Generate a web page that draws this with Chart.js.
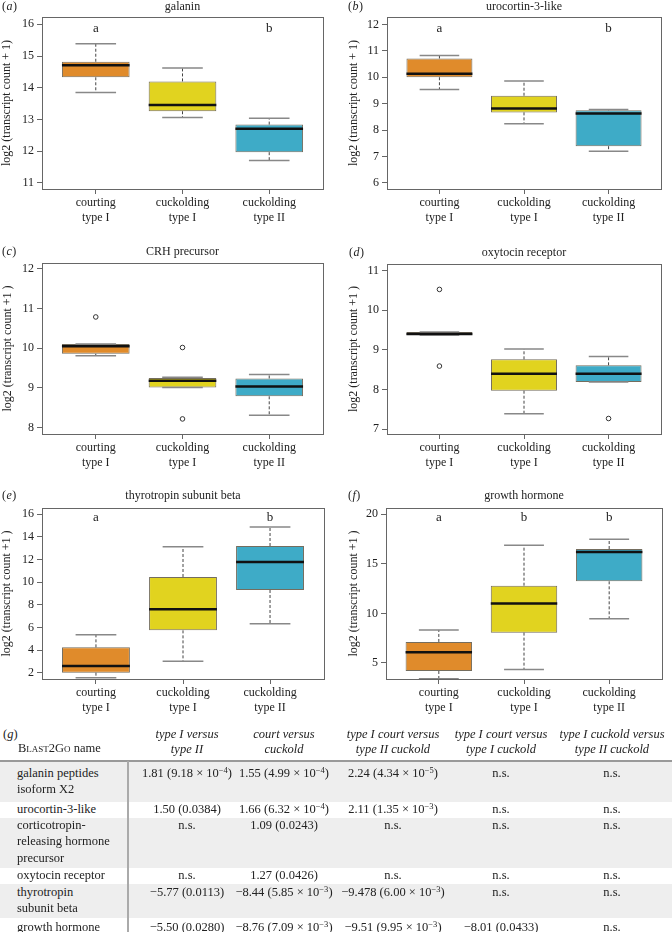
<!DOCTYPE html>
<html>
<head>
<meta charset="utf-8">
<script src="https://cdn.jsdelivr.net/npm/chart.js@4.4.1/dist/chart.umd.min.js"></script>
<style>
  body { margin: 0; background: #fff; font-family: 'Liberation Serif', 'DejaVu Serif', serif; color: #222; }
  #page { position: relative; width: 672px; height: 932px; overflow: hidden; }
  #page canvas { position: absolute; }
  .t { position: absolute; white-space: nowrap; font-size: 12.5px; line-height: 16px; }
  .c { text-align: center; width: 140px; }
  .i { font-style: italic; }
  .sc { font-variant: small-caps; }
  .sup { font-size: 8.5px; position: relative; top: -4px; }
  .band { position: absolute; left: 0; width: 672px; background: #eeeeee; }
</style>
</head>
<body>
<div id="page">
  <canvas id="pa" width="336" height="260" style="left:0;top:0"></canvas>
  <canvas id="pb" width="336" height="260" style="left:336px;top:0"></canvas>
  <canvas id="pc" width="336" height="260" style="left:0;top:230px"></canvas>
  <canvas id="pd" width="336" height="260" style="left:336px;top:230px"></canvas>
  <canvas id="pe" width="336" height="260" style="left:0;top:460px"></canvas>
  <canvas id="pf" width="336" height="260" style="left:336px;top:460px"></canvas>
  <div id="table"></div>
</div>
<script>
const groupLabels = [['courting', 'type I'], ['cuckolding', 'type I'], ['cuckolding', 'type II']];
const boxColors = ['#E08B2B', '#E1D31F', '#3EABC7'];

// each box: [lower whisker, Q1, median, Q3, upper whisker]
const galaninBoxes = [[13.85, 14.33, 14.71, 14.82, 15.39], [13.06, 13.26, 13.46, 14.20, 14.62], [11.71, 11.97, 12.71, 12.84, 13.04]];
const galaninOutliers = [[], [], []];
const galaninTicks = [11, 12, 13, 14, 15, 16];
const galaninLetters = ['a', '', 'b'];

const urocortinBoxes = [[9.54, 10.00, 10.13, 10.71, 10.82], [8.24, 8.67, 8.82, 9.30, 9.86], [7.20, 7.39, 8.63, 8.75, 8.78]];
const urocortinOutliers = [[], [], []];
const urocortinTicks = [6, 7, 8, 9, 10, 11, 12];
const urocortinLetters = ['a', '', 'b'];

const crhBoxes = [[9.81, 9.86, 10.05, 10.11, 10.11], [9.01, 9.01, 9.18, 9.25, 9.27], [8.31, 8.79, 9.04, 9.24, 9.34]];
const crhOutliers = [[10.79], [10.02, 8.22], []];
const crhTicks = [8, 9, 10, 11, 12];
const crhLetters = ['', '', ''];

const oxtrBoxes = [[9.37, 9.37, 9.40, 9.45, 9.45], [7.39, 7.97, 8.40, 8.76, 9.02], [8.19, 8.19, 8.40, 8.61, 8.83]];
const oxtrOutliers = [[10.52, 8.59], [], [7.27]];
const oxtrTicks = [7, 8, 9, 10, 11];
const oxtrLetters = ['', '', ''];

const tshbBoxes = [[1.56, 2.00, 2.59, 4.24, 5.36], [3.00, 5.74, 7.60, 10.46, 13.14], [6.33, 9.31, 11.79, 13.20, 14.88]];
const tshbOutliers = [[], [], []];
const tshbTicks = [2, 4, 6, 8, 10, 12, 14, 16];
const tshbLetters = ['a', '', 'b'];

const ghBoxes = [[3.40, 4.19, 6.07, 7.12, 8.33], [4.33, 8.06, 10.99, 12.80, 16.87], [9.47, 13.24, 16.20, 16.50, 17.48]];
const ghOutliers = [[], [], []];
const ghTicks = [5, 10, 15, 20];
const ghLetters = ['a', 'b', 'b'];

// table (g)
const tableHeaders = [['type I versus', 'type II'], ['court versus', 'cuckold'], ['type I court versus', 'type II cuckold'], ['type I court versus', 'type I cuckold'], ['type I cuckold versus', 'type II cuckold']];
const tableNames = [['galanin peptides', 'isoform X2'], ['urocortin-3-like'], ['corticotropin-', 'releasing hormone', 'precursor'], ['oxytocin receptor'], ['thyrotropin', 'subunit beta'], ['growth hormone']];
const tableValues = [
  ['1.81 (9.18 × 10^−4)', '1.55 (4.99 × 10^−4)', '2.24 (4.34 × 10^−5)', 'n.s.', 'n.s.'],
  ['1.50 (0.0384)', '1.66 (6.32 × 10^−4)', '2.11 (1.35 × 10^−3)', 'n.s.', 'n.s.'],
  ['n.s.', '1.09 (0.0243)', 'n.s.', 'n.s.', 'n.s.'],
  ['n.s.', '1.27 (0.0426)', 'n.s.', 'n.s.', 'n.s.'],
  ['−5.77 (0.0113)', '−8.44 (5.85 × 10^−3)', '−9.478 (6.00 × 10^−3)', 'n.s.', 'n.s.'],
  ['−5.50 (0.0280)', '−8.76 (7.09 × 10^−3)', '−9.51 (9.95 × 10^−3)', '−8.01 (0.0433)', 'n.s.']
];

const FONT = "'Liberation Serif', 'DejaVu Serif', serif";
const CANVAS_H = 260;
const yTitle1 = 'log2 (transcript count + 1)';
const yTitle2 = 'log2 (transcript count +1 )';

const panels = [
  { id: 'pa', tag: 'a', title: 'galanin', yTitle: yTitle1, boxes: galaninBoxes, outliers: galaninOutliers, ticks: galaninTicks, letters: galaninLetters, letterY: 15.88, min: 10.81, max: 16.23, area: [42, 323, 17, 189], titleY: 7, tagX: 2, yTitleX: 7 },
  { id: 'pb', tag: 'b', title: 'urocortin-3-like', yTitle: yTitle1, boxes: urocortinBoxes, outliers: urocortinOutliers, ticks: urocortinTicks, letters: urocortinLetters, letterY: 11.86, min: 5.77, max: 12.28, area: [51, 325, 17, 189], titleY: 7, tagX: 12, yTitleX: 18 },
  { id: 'pc', tag: 'c', title: 'CRH precursor', yTitle: yTitle2, boxes: crhBoxes, outliers: crhOutliers, ticks: crhTicks, letters: crhLetters, letterY: 12, min: 7.84, max: 12.15, area: [42, 323, 33, 204], titleY: 22, tagX: 2, yTitleX: 8 },
  { id: 'pd', tag: 'd', title: 'oxytocin receptor', yTitle: yTitle2, boxes: oxtrBoxes, outliers: oxtrOutliers, ticks: oxtrTicks, letters: oxtrLetters, letterY: 11, min: 6.88, max: 11.16, area: [51, 325, 34, 204], titleY: 23, tagX: 13, yTitleX: 18 },
  { id: 'pe', tag: 'e', title: 'thyrotropin subunit beta', yTitle: yTitle2, boxes: tshbBoxes, outliers: tshbOutliers, ticks: tshbTicks, letters: tshbLetters, letterY: 15.7, min: 1.44, max: 16.56, area: [42, 324, 48, 219], titleY: 36, tagX: 2, yTitleX: 7 },
  { id: 'pf', tag: 'f', title: 'growth hormone', yTitle: yTitle2, boxes: ghBoxes, outliers: ghOutliers, ticks: ghTicks, letters: ghLetters, letterY: 19.66, min: 3.38, max: 20.64, area: [50, 326, 48, 219], titleY: 36, tagX: 12, yTitleX: 18 }
];

const boxExtras = {
  id: 'boxExtras',
  afterDatasetsDraw(chart, args, opts) {
    const { ctx, chartArea: a, scales: { x, y } } = chart;
    const bars = chart.getDatasetMeta(0).data;
    ctx.save();
    ctx.beginPath();
    ctx.rect(a.left, a.top, a.right - a.left, a.bottom - a.top);
    ctx.clip();
    opts.boxes.forEach((b, i) => {
      const cx = x.getPixelForValue(i + 1);
      const half = bars[i].width / 2;
      const cap = half * 0.6;
      ctx.strokeStyle = '#444';
      ctx.lineWidth = 1;
      ctx.setLineDash([3, 2]);
      ctx.beginPath();
      if (b[4] > b[3]) { ctx.moveTo(cx, y.getPixelForValue(b[3])); ctx.lineTo(cx, y.getPixelForValue(b[4])); }
      if (b[0] < b[1]) { ctx.moveTo(cx, y.getPixelForValue(b[1])); ctx.lineTo(cx, y.getPixelForValue(b[0])); }
      ctx.stroke();
      ctx.setLineDash([]);
      ctx.strokeStyle = '#888';
      ctx.lineWidth = 1.5;
      ctx.beginPath();
      [b[0], b[4]].forEach((v) => {
        const py = y.getPixelForValue(v);
        ctx.moveTo(cx - cap, py);
        ctx.lineTo(cx + cap, py);
      });
      ctx.stroke();
      ctx.strokeStyle = '#111';
      ctx.lineWidth = 2.5;
      ctx.beginPath();
      const my = y.getPixelForValue(b[2]);
      ctx.moveTo(cx - half, my);
      ctx.lineTo(cx + half, my);
      ctx.stroke();
    });
    ctx.restore();

    ctx.save();
    ctx.fillStyle = '#222';
    ctx.font = '13px ' + FONT;
    ctx.textAlign = 'center';
    ctx.textBaseline = 'middle';
    opts.letters.forEach((l, i) => {
      if (l) ctx.fillText(l, x.getPixelForValue(i + 1), y.getPixelForValue(opts.letterY));
    });
    ctx.restore();
  },
  afterDraw(chart, args, opts) {
    const { ctx, chartArea: a } = chart;
    ctx.save();
    ctx.strokeStyle = '#666';
    ctx.lineWidth = 1;
    ctx.strokeRect(Math.round(a.left) + 0.5, Math.round(a.top) + 0.5, Math.round(a.right - a.left), Math.round(a.bottom - a.top));
    ctx.fillStyle = '#222';
    ctx.textBaseline = 'middle';
    ctx.font = '12px ' + FONT;
    ctx.textAlign = 'center';
    ctx.fillText(opts.title, (a.left + a.right) / 2, opts.titleY);
    // panel tag "(a)"
    ctx.textAlign = 'left';
    let px = opts.tagX;
    ctx.font = '12px ' + FONT;
    ctx.fillText('(', px, opts.titleY);
    px += ctx.measureText('(').width + 0.5;
    ctx.font = 'italic 12px ' + FONT;
    ctx.fillText(opts.tag, px, opts.titleY);
    px += ctx.measureText(opts.tag).width + 0.5;
    ctx.font = '12px ' + FONT;
    ctx.fillText(')', px, opts.titleY);
    ctx.restore();
  }
};

panels.forEach((p) => {
  const [left, right, top, bottom] = p.area;
  const scatter = [];
  p.outliers.forEach((list, i) => list.forEach((v) => scatter.push({ x: i + 1, y: v })));
  new Chart(document.getElementById(p.id), {
    type: 'bar',
    data: {
      datasets: [
        {
          data: p.boxes.map((b, i) => ({ x: i + 1, y: [b[1], b[3]] })),
          backgroundColor: boxColors,
          borderColor: 'rgba(70,60,40,0.75)',
          borderWidth: 1,
          borderSkipped: false,
          barPercentage: 0.78,
          categoryPercentage: 1
        },
        {
          type: 'scatter',
          data: scatter,
          pointRadius: 2.3,
          pointStyle: 'circle',
          backgroundColor: 'rgba(0,0,0,0)',
          borderColor: '#333',
          borderWidth: 1
        }
      ]
    },
    options: {
      responsive: false,
      animation: false,
      devicePixelRatio: 1,
      layout: { padding: { left: 0, top: top, right: 336 - right, bottom: 0 } },
      plugins: {
        legend: { display: false },
        tooltip: { enabled: false },
        boxExtras: { boxes: p.boxes, letters: p.letters, letterY: p.letterY, title: p.title, titleY: p.titleY, tag: p.tag, tagX: p.tagX }
      },
      scales: {
        x: {
          type: 'linear',
          min: 0.38,
          max: 3.62,
          offset: false,
          afterBuildTicks: (s) => { s.ticks = [1, 2, 3].map((v) => ({ value: v })); },
          afterFit: (s) => { s.height = CANVAS_H - bottom; },
          ticks: {
            autoSkip: false,
            maxRotation: 0,
            padding: 1,
            color: '#222',
            font: { family: FONT, size: 12, lineHeight: 1.25 },
            callback: (v) => groupLabels[v - 1]
          },
          grid: { drawOnChartArea: false, offset: false, tickLength: 5, color: '#666' },
          border: { display: false }
        },
        y: {
          min: p.min,
          max: p.max,
          afterBuildTicks: (s) => { s.ticks = p.ticks.map((v) => ({ value: v })); },
          afterFit: (s) => { s.width = left; },
          ticks: { padding: 3, color: '#222', font: { family: FONT, size: 12 } },
          grid: { drawOnChartArea: false, tickLength: 5, color: '#666' },
          border: { display: false },
          title: {
            display: true,
            text: p.yTitle,
            color: '#222',
            font: { family: FONT, size: 12 },
            padding: { top: p.yTitleX - 7, bottom: 0 }
          }
        }
      }
    },
    plugins: [boxExtras]
  });
});

// table (g)
const colCenters = [187, 284, 393, 501, 612];
const rowTops = [761, 802, 818, 868, 884, 918];
const rowBottoms = [802, 818, 868, 884, 918, 940];
const rowFirstLine = [773, 809, 825, 875, 892, 927];
const tbl = document.getElementById('table');
let html = '';
const fmt = (s) => s.replace(/\^(\S+)\)/, '<span class="sup">$1</span>)');
rowTops.forEach((t, r) => {
  if (r % 2 === 0) html += `<div class="band" style="top:${t}px;height:${rowBottoms[r] - t}px"></div>`;
});
html += `<div class="t" style="left:3px;top:${734 - 8}px">(<span class="i">g</span>)</div>`;
html += `<div class="t" style="left:18px;top:${748 - 8}px"><span class="sc">Blast2Go</span> name</div>`;
tableHeaders.forEach((h, j) => {
  h.forEach((line, k) => {
    html += `<div class="t c i" style="left:${colCenters[j] - 70}px;top:${734 + k * 14.5 - 8}px">${line}</div>`;
  });
});
html += '<div style="position:absolute;left:0;top:760px;width:672px;height:1.5px;background:#999"></div>';
html += '<div style="position:absolute;left:127px;top:761px;width:2px;height:171px;background:#aaa"></div>';
tableNames.forEach((lines, r) => {
  lines.forEach((line, k) => {
    html += `<div class="t" style="left:17px;top:${rowFirstLine[r] + k * 16.3 - 8}px">${line}</div>`;
  });
  tableValues[r].forEach((v, j) => {
    html += `<div class="t c" style="left:${colCenters[j] - 70}px;top:${rowFirstLine[r] - 8}px">${fmt(v)}</div>`;
  });
});
tbl.innerHTML = html;
</script>
</body>
</html>
